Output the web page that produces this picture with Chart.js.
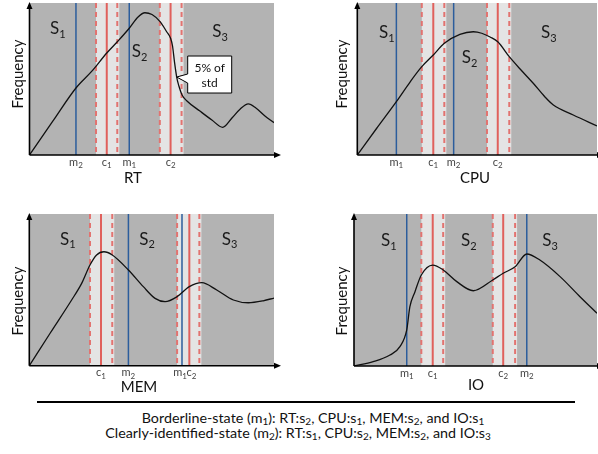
<!DOCTYPE html>
<html>
<head>
<meta charset="utf-8">
<script src="https://cdn.jsdelivr.net/npm/chart.js@4.4.1/dist/chart.umd.min.js"></script>
<style>
body{margin:0;background:#fff;width:598px;height:454px;position:relative;overflow:hidden;font-family:Lato,"Open Sans",sans-serif;}
canvas{position:absolute;}
#rule{position:absolute;left:37px;top:401px;width:538px;height:2px;background:#000;}
.cap{position:absolute;font-size:14.3px;color:#111;white-space:nowrap;transform:translateX(-50%);line-height:15px;}
.cap sub{font-size:10px;vertical-align:-2px;line-height:0;}
</style>
</head>
<body>
<canvas id="rt" width="300" height="195" style="left:0;top:0"></canvas>
<canvas id="cpu" width="298" height="195" style="left:300px;top:0"></canvas>
<canvas id="mem" width="300" height="200" style="left:0;top:200px"></canvas>
<canvas id="io" width="298" height="200" style="left:300px;top:200px"></canvas>
<div id="rule"></div>
<div class="cap" style="left:313px;top:410px">Borderline-state (m<sub>1</sub>): RT:s<sub>2</sub>, CPU:s<sub>1</sub>, MEM:s<sub>2</sub>, and IO:s<sub>1</sub></div>
<div class="cap" style="left:298px;top:425px">Clearly-identified-state (m<sub>2</sub>): RT:s<sub>1</sub>, CPU:s<sub>2</sub>, MEM:s<sub>2</sub>, and IO:s<sub>3</sub></div>
<script>
// x and y are in percent of each panel's axis range
const rtX = [0, 9.6, 19.0, 25.6, 31.6, 36.2, 40.8, 44.4, 47.2, 50.1, 53.4, 56.1, 57.7, 58.5, 59.3, 60.2, 61.1, 62.4, 64.4, 69.7, 74.6, 79.0, 82.8, 86.2, 89.5, 92.6, 96.3, 100];
const rtY = [0, 22.4, 44.1, 55.3, 67.1, 75.0, 83.4, 90.8, 93.6, 92.4, 87.7, 81.1, 76.8, 71.7, 61.2, 51.3, 45.4, 39.5, 35.5, 28.9, 23.0, 18.2, 24.3, 30.3, 33.6, 30.9, 25.7, 21.3];
const rtM1 = 40.8, rtM2 = 19.0;
const rtC1 = [27.2, 31.6, 35.9], rtC2 = [53.3, 57.7, 62.2];

const cpuX = [0, 8.1, 16.3, 22.0, 26.9, 31.7, 36.3, 42.8, 48.4, 51.9, 55.4, 58.6, 63.4, 68.3, 73.4, 78.3, 81.8, 90.1, 100];
const cpuY = [0, 17.6, 35.1, 48.0, 58.1, 65.8, 73.5, 79.4, 81.1, 80.1, 77.6, 74.5, 64.7, 55.9, 47.2, 38.2, 32.9, 26.3, 19.1];
const cpuM1 = 16.3, cpuM2 = 40.2;
const cpuC1 = [26.9, 31.7, 36.3], cpuC2 = [54.1, 58.6, 63.4];

const memX = [0, 8.5, 17.3, 21.4, 24.8, 27.5, 30.5, 33.9, 40.5, 46.6, 51.4, 55.5, 60.4, 65.4, 70.5, 76.6, 83.4, 89.5, 95.6, 100];
const memY = [0, 21.4, 43.3, 54.3, 66.4, 73.0, 75.1, 73.0, 63.1, 52.1, 44.4, 42.2, 45.5, 52.1, 54.7, 49.9, 43.3, 41.5, 42.8, 44.6];
const memM1 = 62.4, memM2 = 40.5;
const memC1 = [24.8, 29.3, 33.9], memC2 = [60.4, 65.4, 69.5];

const ioX = [0, 7.9, 14.8, 18.9, 21.7, 23.0, 25.1, 27.7, 32.4, 36.7, 42.3, 49.1, 57.1, 61.4, 66.3, 71.1, 76.5, 84.8, 93.0, 100];
const ioY = [0, 2.8, 7.2, 12.7, 23.7, 39.0, 48.9, 59.9, 66.4, 63.2, 55.5, 49.5, 56.6, 61.0, 65.3, 73.7, 69.7, 58.8, 45.6, 34.7];
const ioM1 = 21.7, ioM2 = 71.1;
const ioC1 = [27.7, 32.4, 36.7], ioC2 = [57.1, 61.4, 66.3];

const GRAY = "#b3b3b3", BAND = "#e4e4e4", RED = "#e0605c", RED_D = "#e27370", BLUE = "#2c5d9c";
const FONT = "Lato, 'Open Sans', sans-serif";

function subText(ctx, x, y, main, sub, size, subSize, align) {
  ctx.font = size + "px " + FONT;
  const w1 = ctx.measureText(main).width;
  ctx.font = subSize + "px " + FONT;
  const w2 = ctx.measureText(sub).width;
  let left = x;
  if (align === "center") left = x - (w1 + w2) / 2;
  ctx.textAlign = "left";
  ctx.textBaseline = "middle";
  ctx.font = size + "px " + FONT;
  ctx.fillText(main, left, y);
  ctx.font = subSize + "px " + FONT;
  ctx.fillText(sub, left + w1, y + size * 0.3);
}

const panelPlugin = {
  id: "panel",
  beforeDatasetsDraw(chart, args, o) {
    const ctx = chart.ctx, a = chart.chartArea, xs = chart.scales.x;
    ctx.save();
    ctx.fillStyle = GRAY;
    ctx.fillRect(a.left, a.top, a.right - a.left, a.bottom - a.top);
    const vline = (v, color, dash, w) => {
      const px = xs.getPixelForValue(v);
      ctx.beginPath();
      ctx.strokeStyle = color;
      ctx.lineWidth = w;
      ctx.setLineDash(dash);
      ctx.moveTo(px, a.top);
      ctx.lineTo(px, a.bottom);
      ctx.stroke();
    };
    o.bands.forEach(b => {
      const l = xs.getPixelForValue(b[0]), r = xs.getPixelForValue(b[2]);
      ctx.fillStyle = BAND;
      ctx.fillRect(l, a.top, r - l + 2, a.bottom - a.top);
    });
    o.bands.forEach(b => {
      vline(b[0], RED_D, [5, 4], 2);
      vline(b[2], RED_D, [5, 4], 2);
      vline(b[1], RED, [], 2);
    });
    o.marks.forEach(m => vline(m, BLUE, [], 1.5));
    ctx.restore();
  },
  afterDraw(chart, args, o) {
    const ctx = chart.ctx, a = chart.chartArea, xs = chart.scales.x, ys = chart.scales.y;
    ctx.save();
    // axes with arrows
    ctx.strokeStyle = "#000";
    ctx.fillStyle = "#000";
    ctx.lineWidth = 1.6;
    ctx.beginPath();
    ctx.moveTo(a.left, a.bottom);
    ctx.lineTo(a.left, a.top + 2);
    ctx.moveTo(a.left, a.bottom);
    ctx.lineTo(a.right + 4, a.bottom);
    ctx.stroke();
    ctx.beginPath();
    ctx.moveTo(a.left, a.top - 1);
    ctx.lineTo(a.left - 3, a.top + 6);
    ctx.lineTo(a.left + 3, a.top + 6);
    ctx.fill();
    ctx.beginPath();
    ctx.moveTo(a.right + 7, a.bottom);
    ctx.lineTo(a.right, a.bottom - 3);
    ctx.lineTo(a.right, a.bottom + 3);
    ctx.fill();
    // state labels
    ctx.fillStyle = "#1a1a1a";
    o.states.forEach((s, i) => subText(ctx, s[0], s[1], "S", String(i + 1), 17, 11, "left"));
    // tick labels
    ctx.fillStyle = "#444";
    o.ticks.forEach(t => subText(ctx, xs.getPixelForValue(t[0]) + (t[3] || 0), a.bottom + 7, t[1], t[2], 11, 8, "center"));
    // axis titles
    ctx.fillStyle = "#111";
    ctx.font = "15px " + FONT;
    ctx.textAlign = "center";
    ctx.textBaseline = "middle";
    ctx.fillText(o.title[0], o.title[1], o.title[2]);
    ctx.save();
    ctx.translate(o.freq[0], o.freq[1]);
    ctx.rotate(-Math.PI / 2);
    ctx.fillText("Frequency", 0, 0);
    ctx.restore();
    // callout
    if (o.callout) {
      const tx = xs.getPixelForValue(o.callout[0]), ty = ys.getPixelForValue(o.callout[1]);
      const bl = tx + 11, bt = ty - 21, bw = 44, bh = 37;
      ctx.fillStyle = "#fff";
      ctx.strokeStyle = "#000";
      ctx.lineWidth = 1;
      ctx.beginPath();
      ctx.moveTo(bl, bt);
      ctx.lineTo(bl + bw, bt);
      ctx.lineTo(bl + bw, bt + bh);
      ctx.lineTo(bl, bt + bh);
      ctx.lineTo(bl, ty + 6);
      ctx.lineTo(tx, ty);
      ctx.lineTo(bl, ty - 3);
      ctx.closePath();
      ctx.fill();
      ctx.stroke();
      ctx.fillStyle = "#111";
      ctx.font = "12px " + FONT;
      ctx.textAlign = "center";
      ctx.fillText(o.callout[2], bl + bw / 2, bt + 12);
      ctx.fillText(o.callout[3], bl + bw / 2, bt + 27);
    }
    ctx.restore();
  }
};

function makePanel(id, xsArr, ysArr, pad, panel) {
  new Chart(document.getElementById(id), {
    type: "line",
    data: {
      datasets: [{
        data: xsArr.map((x, i) => ({ x: x, y: ysArr[i] })),
        borderColor: "#111",
        borderWidth: 1.3,
        pointRadius: 0,
        fill: false,
        cubicInterpolationMode: "monotone"
      }]
    },
    options: {
      responsive: false,
      animation: false,
      layout: { padding: pad },
      plugins: { legend: { display: false }, tooltip: { enabled: false }, panel: panel },
      scales: {
        x: { type: "linear", min: 0, max: 100, display: false },
        y: { min: 0, max: 100, display: false }
      }
    },
    plugins: [panelPlugin]
  });
}

makePanel("rt", rtX, rtY, { left: 29.5, right: 26, top: 3, bottom: 40 }, {
  bands: [rtC1, rtC2], marks: [rtM1, rtM2],
  states: [[50, 29], [131.7, 52], [212.3, 32]],
  ticks: [[rtM2, "m", "2"], [rtC1[1], "c", "1"], [rtM1, "m", "1"], [rtC2[1], "c", "2"]],
  title: ["RT", 133, 178], freq: [18.5, 74],
  callout: [60.2, 51.3, "5% of", "std"]
});
makePanel("cpu", cpuX, cpuY, { left: 57.3, right: 1, top: 3, bottom: 40 }, {
  bands: [cpuC1, cpuC2], marks: [cpuM1, cpuM2],
  states: [[79, 33], [161.7, 58], [241, 33]],
  ticks: [[cpuM1, "m", "1"], [cpuC1[1], "c", "1"], [cpuM2, "m", "2"], [cpuC2[1], "c", "2"]],
  title: ["CPU", 175, 178], freq: [42.5, 74]
});
makePanel("mem", memX, memY, { left: 29.3, right: 26, top: 14, bottom: 34.3 }, {
  bands: [memC1, memC2], marks: [memM1, memM2],
  states: [[60, 39.5], [139.3, 39.5], [221.7, 39.5]],
  ticks: [[memC1[1], "c", "1"], [memM2, "m", "2"], [memM1, "m", "1", -2], [memC2[1], "c", "2", 2]],
  title: ["MEM", 139, 187], freq: [18.5, 101]
});
makePanel("io", ioX, ioY, { left: 54, right: 1, top: 14, bottom: 34 }, {
  bands: [ioC1, ioC2], marks: [ioM1, ioM2],
  states: [[81, 41], [161, 41], [242.3, 41]],
  ticks: [[ioM1, "m", "1"], [ioC1[1], "c", "1"], [ioC2[1], "c", "2"], [ioM2, "m", "2"]],
  title: ["IO", 176, 185], freq: [42.5, 101]
});
</script>
</body>
</html>
